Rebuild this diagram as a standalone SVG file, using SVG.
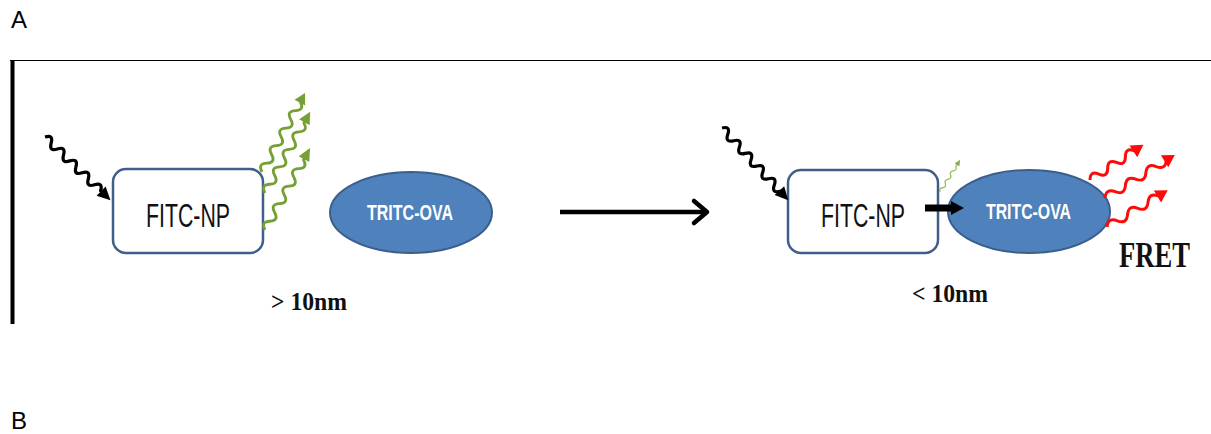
<svg xmlns="http://www.w3.org/2000/svg" width="1211" height="434" viewBox="0 0 1211 434">
<style>
.box{fill:#fff;stroke:#3f5f8a;stroke-width:2.5}
.ell{fill:#4f81bd;stroke:#3a5f8c;stroke-width:2}
.np{font-family:"Liberation Sans",Arial,sans-serif;font-size:34px;fill:#111}
.ova{font-family:"Liberation Sans",Arial,sans-serif;font-size:22px;font-weight:bold;fill:#fff}
.serif{font-family:"Liberation Serif","Times New Roman",serif;font-weight:bold;fill:#111}
.lab{font-family:"Liberation Sans",Arial,sans-serif;font-size:24px;fill:#000}
.wb{fill:none;stroke:#000;stroke-width:3.2}
.wg{fill:none;stroke:#76a035;stroke-width:2.8}
.wr{fill:none;stroke:#ff0a0a;stroke-width:3}
</style>
<rect width="1211" height="434" fill="#fff"/>
<text class="lab" x="11" y="28">A</text>
<text class="lab" x="11" y="429">B</text>
<g id="frame">
<line x1="10" y1="60.5" x2="1211" y2="60.5" stroke="#000" stroke-width="1.2"/>
<line x1="12.5" y1="60" x2="12.5" y2="324" stroke="#000" stroke-width="4"/>
</g>
<g id="fitc-np-1">
<rect class="box" x="113" y="169" width="150" height="84" rx="13"/>
<text class="np" x="146" y="227" textLength="84" lengthAdjust="spacingAndGlyphs">FITC-NP</text>
</g>
<g id="tritc-ova-1">
<ellipse class="ell" cx="411" cy="212.5" rx="81" ry="40.5"/>
<text class="ova" x="367" y="220" textLength="86" lengthAdjust="spacingAndGlyphs">TRITC-OVA</text>
</g>
<g id="fitc-np-2">
<rect class="box" x="788" y="170" width="150" height="83" rx="13"/>
<text class="np" x="821" y="227" textLength="84" lengthAdjust="spacingAndGlyphs">FITC-NP</text>
</g>
<g id="tritc-ova-2">
<ellipse class="ell" cx="1029" cy="211.5" rx="81" ry="41.5"/>
<text class="ova" x="986" y="219" textLength="85" lengthAdjust="spacingAndGlyphs">TRITC-OVA</text>
</g>
<g id="labels">
<text class="serif" x="271" y="310" font-size="25" textLength="76" lengthAdjust="spacingAndGlyphs">&gt; 10nm</text>
<text class="serif" x="912" y="302" font-size="25" textLength="76" lengthAdjust="spacingAndGlyphs">&lt; 10nm</text>
<text class="serif" x="1119" y="267" font-size="35" textLength="71" lengthAdjust="spacingAndGlyphs">FRET</text>
</g>
<g id="connectors">
<g transform="translate(45,137) rotate(44)">
<path class="wb" d="M0,0 q4.3,-8 8.6,0 t8.6,0 t8.6,0 t8.6,0 t8.6,0 t8.6,0 t8.6,0 t8.6,0 t8.6,0 L80,0"/>
<polygon points="78,-6.5 91,0 78,6.5" fill="#000"/>
</g>
<g transform="translate(722,128) rotate(47.5)">
<path class="wb" d="M0,0 q4.3,-8 8.6,0 t8.6,0 t8.6,0 t8.6,0 t8.6,0 t8.6,0 t8.6,0 t8.6,0 t8.6,0 t8.6,0 L87,0"/>
<polygon points="85,-6.5 98,0 85,6.5" fill="#000"/>
</g>
<g transform="translate(262,172) rotate(-61.4)">
<path class="wg" d="M0,0 q5,-8 10,0 t10,0 t10,0 t10,0 t10,0 t10,0 t10,0 t10,0 L81,0"/>
<polygon points="79,-6 90,0 79,6" fill="#76a035"/>
</g>
<g transform="translate(265,193) rotate(-60.9)">
<path class="wg" d="M0,0 q5,-8 10,0 t10,0 t10,0 t10,0 t10,0 t10,0 t10,0 t10,0 L83,0"/>
<polygon points="81,-6 93,0 81,6" fill="#76a035"/>
</g>
<g transform="translate(265,230) rotate(-61.2)">
<path class="wg" d="M0,0 q5,-8 10,0 t10,0 t10,0 t10,0 t10,0 t10,0 t10,0 t10,0 L83,0"/>
<polygon points="81,-6 93.5,0 81,6" fill="#76a035"/>
</g>
<g transform="translate(940,192) rotate(-58)">
<path fill="none" stroke="#9bbb59" stroke-width="1.3" d="M0,0 q2.5,-3 5,0 t5,0 t5,0 t5,0 t5,0 t5,0 L33,0"/>
<polygon points="32,-2.8 38,0 32,2.8" fill="#8aad4a"/>
</g>
<g>
<line x1="560" y1="212" x2="706" y2="212" stroke="#000" stroke-width="4.5"/>
<polyline points="694,201 707,212 694,223" fill="none" stroke="#000" stroke-width="4.5" stroke-linecap="round" stroke-linejoin="round"/>
</g>
<g>
<line x1="925" y1="208" x2="953" y2="208" stroke="#000" stroke-width="7"/>
<polygon points="951,201 964,208 951,215" fill="#000"/>
</g>
<g transform="translate(1090,180) rotate(-33.4)">
<path class="wr" d="M0,0 q5.3,-8 10.6,0 t10.6,0 t10.6,0 t10.6,0 t10.6,0"/>
<polygon points="52,-7 64,0 52,7" fill="#ff0a0a"/>
</g>
<g transform="translate(1105,198) rotate(-31.6)">
<path class="wr" d="M0,0 q6,-8 12,0 t12,0 t12,0 t12,0 t12,0 t12,0"/>
<polygon points="70,-7 82,0 70,7" fill="#ff0a0a"/>
</g>
<g transform="translate(1107,227) rotate(-31.2)">
<path class="wr" d="M0,0 q6,-8 12,0 t12,0 t12,0 t12,0 t12,0"/>
<polygon points="59,-7 71,0 59,7" fill="#ff0a0a"/>
</g>
</g>
</svg>
